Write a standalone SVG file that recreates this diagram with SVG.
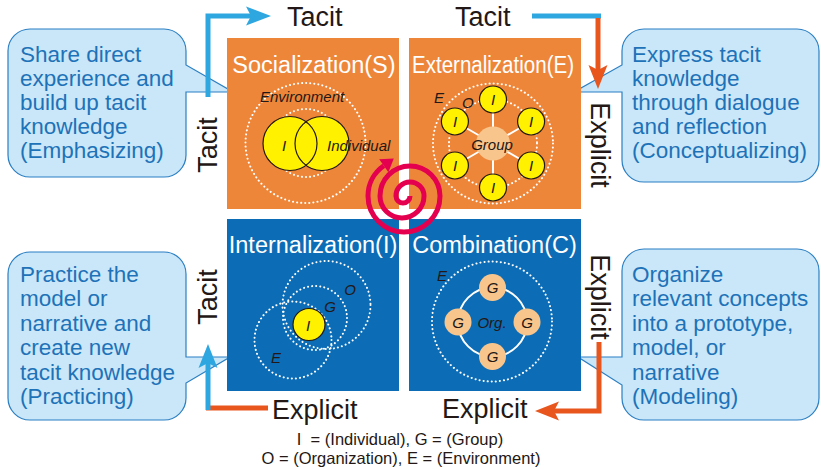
<svg xmlns="http://www.w3.org/2000/svg" width="821" height="470" viewBox="0 0 821 470">
<style>
.quad-o{fill:#EE863A}
.quad-b{fill:#0C6DB6}
.title{font-family:"Liberation Sans",Arial,sans-serif;font-size:23.5px;fill:#fff;text-anchor:middle}
.axis{font-family:"Liberation Sans",Arial,sans-serif;font-size:27px;fill:#231815}
.lbl{font-family:"Liberation Sans",Arial,sans-serif;font-size:15px;font-style:italic;fill:#231815}
.lblc{font-family:"Liberation Sans",Arial,sans-serif;font-size:15px;font-style:italic;fill:#231815;text-anchor:middle}
.dot{fill:none;stroke:#fff;stroke-width:2;stroke-dasharray:0.1 4;stroke-linecap:round}
.yel{fill:#FFF100;stroke:#231815;stroke-width:1.2}
.peach{fill:#F8C68D}
.spoke{stroke:#fff;stroke-width:2;fill:none}
.callout{fill:#C9E7F8;stroke:#2B7FC3;stroke-width:1.2}
.ctext{font-family:"Liberation Sans",Arial,sans-serif;font-size:22.5px;fill:#1E72B8}
.blue{fill:none;stroke:#2EA7E0;stroke-width:5}
.red{fill:none;stroke:#E8561E;stroke-width:5}
.legend{font-family:"Liberation Sans",Arial,sans-serif;font-size:16.5px;fill:#231815;text-anchor:middle}
</style>

<g id="callout-S">
<path class="callout" d="M 30 29 H 164 A 22 22 0 0 1 186 51 V 65 L 233 92 L 186 92 V 155 A 22 22 0 0 1 164 177 H 30 A 22 22 0 0 1 8 155 V 51 A 22 22 0 0 1 30 29 Z"/>
<text class="ctext" x="20" y="62">Share direct<tspan x="20" dy="24">experience and</tspan><tspan x="20" dy="24">build up tacit</tspan><tspan x="20" dy="24">knowledge</tspan><tspan x="20" dy="24">(Emphasizing)</tspan></text>
</g>

<g id="callout-E">
<path class="callout" d="M 644 29 H 797 A 22 22 0 0 1 819 51 V 160 A 22 22 0 0 1 797 182 H 644 A 22 22 0 0 1 622 160 V 92 L 574 92 L 622 65 V 51 A 22 22 0 0 1 644 29 Z"/>
<text class="ctext" x="632" y="62">Express tacit<tspan x="632" dy="24">knowledge</tspan><tspan x="632" dy="24">through dialogue</tspan><tspan x="632" dy="24">and reflection</tspan><tspan x="632" dy="24">(Conceptualizing)</tspan></text>
</g>

<g id="callout-I">
<path class="callout" d="M 30 252 H 164 A 22 22 0 0 1 186 274 V 357 L 230 357 L 186 383 V 398 A 22 22 0 0 1 164 420 H 30 A 22 22 0 0 1 8 398 V 274 A 22 22 0 0 1 30 252 Z"/>
<text class="ctext" x="20" y="282">Practice the<tspan x="20" dy="24.4">model or</tspan><tspan x="20" dy="24.4">narrative and</tspan><tspan x="20" dy="24.4">create new</tspan><tspan x="20" dy="24.4">tacit knowledge</tspan><tspan x="20" dy="24.4">(Practicing)</tspan></text>
</g>

<g id="callout-C">
<path class="callout" d="M 644 249 H 797 A 22 22 0 0 1 819 271 V 398 A 22 22 0 0 1 797 420 H 644 A 22 22 0 0 1 622 398 V 385 L 578 357 L 622 357 V 271 A 22 22 0 0 1 644 249 Z"/>
<text class="ctext" x="632" y="282">Organize<tspan x="632" dy="24.4">relevant concepts</tspan><tspan x="632" dy="24.4">into a prototype,</tspan><tspan x="632" dy="24.4">model, or</tspan><tspan x="632" dy="24.4">narrative</tspan><tspan x="632" dy="24.4">(Modeling)</tspan></text>
</g>

<g id="socialization">
<rect class="quad-o" x="227" y="38" width="172" height="171"/>
<text class="title" x="314" y="73">Socialization(S)</text>
<circle class="dot" cx="305.5" cy="143" r="60"/>
<circle class="dot" cx="306" cy="143" r="34"/>
<circle cx="290" cy="143.5" r="27" fill="#FFF100"/>
<circle cx="322" cy="143.5" r="27" fill="#FFF100"/>
<circle cx="290" cy="143.5" r="27" fill="none" stroke="#231815" stroke-width="1.2"/>
<circle cx="322" cy="143.5" r="27" fill="none" stroke="#231815" stroke-width="1.2"/>
<text class="lbl" x="260" y="102">Environment</text>
<text class="lblc" x="284" y="151">I</text>
<text class="lbl" x="327" y="151">Individual</text>
</g>

<g id="externalization">
<rect class="quad-o" x="409" y="38" width="172" height="171"/>
<text class="title" x="493" y="73" textLength="162" lengthAdjust="spacingAndGlyphs">Externalization(E)</text>
<circle class="dot" cx="493" cy="143.5" r="60"/>
<circle class="dot" cx="493" cy="143.5" r="44"/>
<path class="spoke" d="M493 143.5 L493 99.5 M493 143.5 L493 187.5 M493 143.5 L531.1 121.5 M493 143.5 L531.1 165.5 M493 143.5 L454.9 121.5 M493 143.5 L454.9 165.5"/>
<circle class="peach" cx="493" cy="143.5" r="17"/>
<circle class="yel" cx="493" cy="99.5" r="13.5"/>
<circle class="yel" cx="493" cy="187.5" r="13.5"/>
<circle class="yel" cx="531.1" cy="121.5" r="13.5"/>
<circle class="yel" cx="531.1" cy="165.5" r="13.5"/>
<circle class="yel" cx="454.9" cy="121.5" r="13.5"/>
<circle class="yel" cx="454.9" cy="165.5" r="13.5"/>
<text class="lblc" x="493" y="105">I</text>
<text class="lblc" x="493" y="193">I</text>
<text class="lblc" x="531" y="127">I</text>
<text class="lblc" x="531" y="171">I</text>
<text class="lblc" x="455" y="127">I</text>
<text class="lblc" x="455" y="171">I</text>
<text class="lbl" x="434" y="103">E</text>
<text class="lbl" x="462" y="108">O</text>
<text class="lblc" x="492" y="150">Group</text>
</g>

<g id="internalization">
<rect class="quad-b" x="227" y="219" width="172" height="172"/>
<text class="title" x="313" y="253">Internalization(I)</text>
<circle class="dot" cx="326.5" cy="305" r="44"/>
<circle class="dot" cx="315" cy="318" r="32"/>
<circle class="dot" cx="293" cy="340" r="38.5"/>
<circle class="yel" cx="309" cy="324.5" r="16"/>
<text class="lblc" x="308" y="331">I</text>
<text class="lblc" x="330" y="312">G</text>
<text class="lblc" x="350" y="295">O</text>
<text class="lblc" x="276" y="363">E</text>
</g>

<g id="combination">
<rect class="quad-b" x="409" y="219" width="172" height="172"/>
<text class="title" x="494.5" y="253">Combination(C)</text>
<circle class="dot" cx="492" cy="321.5" r="60"/>
<circle cx="492.5" cy="322" r="34.5" fill="none" stroke="#fff" stroke-width="2"/>
<circle class="peach" cx="492.5" cy="287.5" r="13.5"/>
<circle class="peach" cx="492.5" cy="356.5" r="13.5"/>
<circle class="peach" cx="458" cy="322" r="13.5"/>
<circle class="peach" cx="527" cy="322" r="13.5"/>
<text class="lblc" x="492.5" y="293">G</text>
<text class="lblc" x="492.5" y="362">G</text>
<text class="lblc" x="458" y="327.5">G</text>
<text class="lblc" x="527" y="327.5">G</text>
<text class="lblc" x="492" y="328">Org.</text>
<text class="lbl" x="437" y="281">E</text>
</g>

<g id="spiral">
<path d="M 410 196 A 7 7 0 0 1 396 196 A 14 14 0 0 1 424 196 A 22 22 0 0 1 380 196 A 30 30 0 0 1 440 196 A 36 36 0 0 1 368 196 A 37 37 0 0 1 383.8 165.7" fill="none" stroke="#E4004F" stroke-width="5"/>
<polygon points="393.8,158.6 388.4,172.3 379.2,159.2" fill="#E4004F"/>
</g>

<g id="connectors">
<polyline class="blue" points="208,97 208,16 252,16"/>
<polygon points="246,6.5 271,16 246,25.5 251,16" fill="#2EA7E0"/>
<line class="blue" x1="532" y1="16" x2="601" y2="16"/>
<line class="red" x1="598" y1="18" x2="598" y2="70"/>
<polygon points="588.5,65 598,89 607.5,65 598,70" fill="#E8561E"/>
<polyline class="red" points="599,342 599,411 554,411"/>
<polygon points="559,401.5 535,411 559,420.5 554,411" fill="#E8561E"/>
<line class="red" x1="268" y1="408" x2="206" y2="408"/>
<line class="blue" x1="208" y1="410" x2="208" y2="363"/>
<polygon points="198.5,368 208,344 217.5,368 208,363" fill="#2EA7E0"/>
</g>

<g id="axis-labels">
<text class="axis" x="287" y="26">Tacit</text>
<text class="axis" x="455" y="26">Tacit</text>
<text class="axis" x="272" y="419">Explicit</text>
<text class="axis" x="442" y="418">Explicit</text>
<text class="axis" text-anchor="middle" transform="translate(217,145) rotate(-90)">Tacit</text>
<text class="axis" text-anchor="middle" transform="translate(217,297) rotate(-90)">Tacit</text>
<text class="axis" text-anchor="middle" transform="translate(591,145) rotate(90)">Explicit</text>
<text class="axis" text-anchor="middle" transform="translate(591,297) rotate(90)">Explicit</text>
</g>

<g id="legend">
<text class="legend" x="400" y="445" xml:space="preserve">I  = (Individual), G = (Group)</text>
<text class="legend" x="401" y="464">O = (Organization), E = (Environment)</text>
</g>
</svg>
